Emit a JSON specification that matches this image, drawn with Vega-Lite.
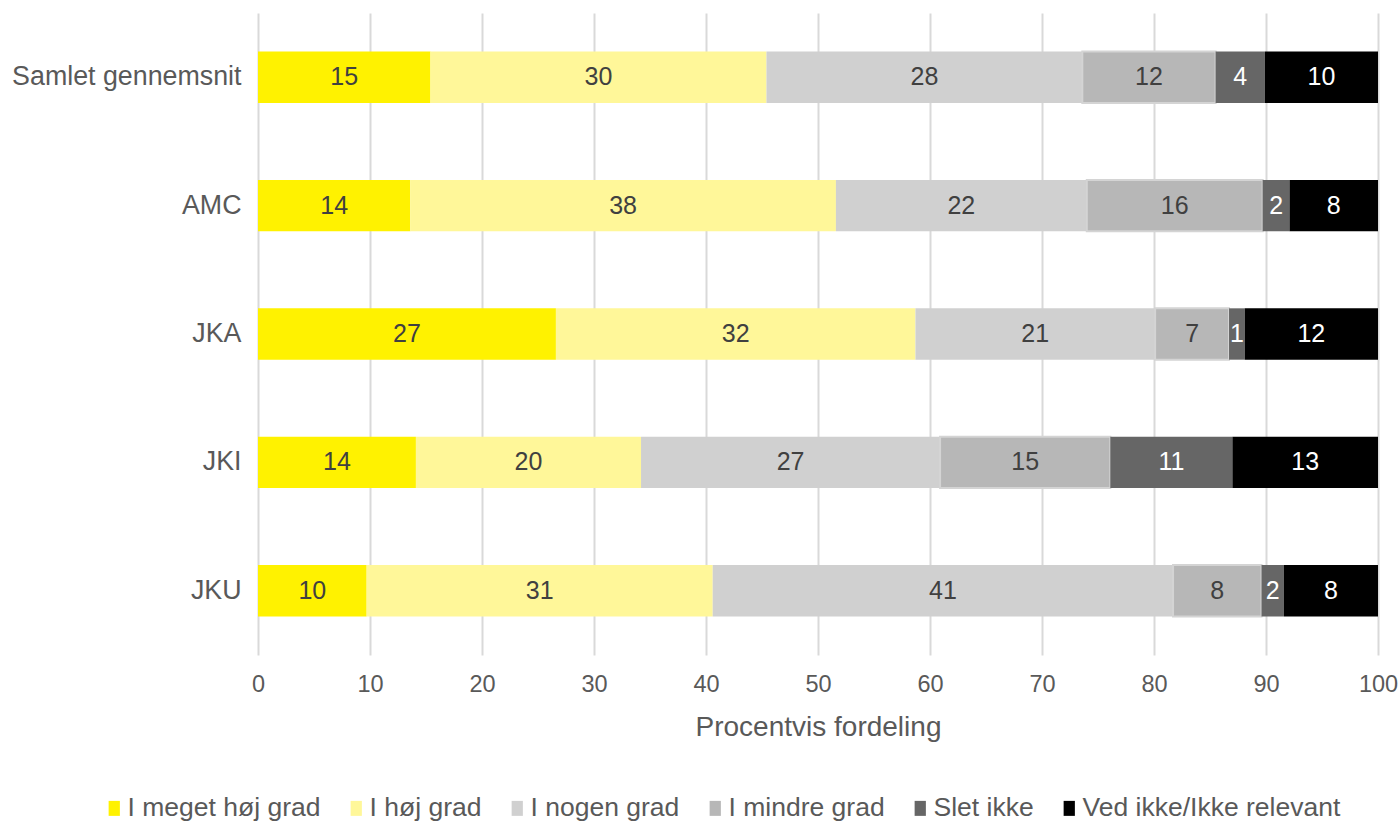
{
  "$schema": "https://vega.github.io/schema/vega-lite/v6.json",
  "autosize": {"type": "none"},
  "width": 1120,
  "height": 642,
  "padding": {"top": 13, "left": 258, "right": 22, "bottom": 170},
  "background": "#ffffff",
  "config": {
    "view": {"stroke": null},
    "font": "Liberation Sans",
    "text": {"font": "Liberation Sans"}
  },
  "data": {
    "values": [
      {"grp": "Samlet gennemsnit", "kat": "I meget høj grad", "v": 15.4},
      {"grp": "Samlet gennemsnit", "kat": "I høj grad", "v": 30.0},
      {"grp": "Samlet gennemsnit", "kat": "I nogen grad", "v": 28.2},
      {"grp": "Samlet gennemsnit", "kat": "I mindre grad", "v": 11.9},
      {"grp": "Samlet gennemsnit", "kat": "Slet ikke", "v": 4.4},
      {"grp": "Samlet gennemsnit", "kat": "Ved ikke/Ikke relevant", "v": 10.1},
      {"grp": "AMC", "kat": "I meget høj grad", "v": 13.6},
      {"grp": "AMC", "kat": "I høj grad", "v": 38.0},
      {"grp": "AMC", "kat": "I nogen grad", "v": 22.4},
      {"grp": "AMC", "kat": "I mindre grad", "v": 15.7},
      {"grp": "AMC", "kat": "Slet ikke", "v": 2.4},
      {"grp": "AMC", "kat": "Ved ikke/Ikke relevant", "v": 7.9},
      {"grp": "JKA", "kat": "I meget høj grad", "v": 26.6},
      {"grp": "JKA", "kat": "I høj grad", "v": 32.1},
      {"grp": "JKA", "kat": "I nogen grad", "v": 21.4},
      {"grp": "JKA", "kat": "I mindre grad", "v": 6.6},
      {"grp": "JKA", "kat": "Slet ikke", "v": 1.4},
      {"grp": "JKA", "kat": "Ved ikke/Ikke relevant", "v": 11.9},
      {"grp": "JKI", "kat": "I meget høj grad", "v": 14.1},
      {"grp": "JKI", "kat": "I høj grad", "v": 20.1},
      {"grp": "JKI", "kat": "I nogen grad", "v": 26.7},
      {"grp": "JKI", "kat": "I mindre grad", "v": 15.2},
      {"grp": "JKI", "kat": "Slet ikke", "v": 10.9},
      {"grp": "JKI", "kat": "Ved ikke/Ikke relevant", "v": 13.0},
      {"grp": "JKU", "kat": "I meget høj grad", "v": 9.7},
      {"grp": "JKU", "kat": "I høj grad", "v": 30.9},
      {"grp": "JKU", "kat": "I nogen grad", "v": 41.1},
      {"grp": "JKU", "kat": "I mindre grad", "v": 7.9},
      {"grp": "JKU", "kat": "Slet ikke", "v": 2.0},
      {"grp": "JKU", "kat": "Ved ikke/Ikke relevant", "v": 8.4}
    ]
  },
  "transform": [
    {"calculate": "indexof(['I meget høj grad','I høj grad','I nogen grad','I mindre grad','Slet ikke','Ved ikke/Ikke relevant'], datum.kat)", "as": "rang"},
    {"stack": "v", "groupby": ["grp"], "sort": [{"field": "rang", "order": "ascending"}], "as": ["x0", "x1"]},
    {"calculate": "(datum.x0 + datum.x1) / 2", "as": "midt"}
  ],
  "encoding": {
    "y": {
      "field": "grp",
      "type": "nominal",
      "sort": ["Samlet gennemsnit", "AMC", "JKA", "JKI", "JKU"],
      "scale": {"paddingInner": 0.6, "paddingOuter": 0.3},
      "axis": {
        "title": null,
        "domain": false,
        "ticks": false,
        "grid": false,
        "labelFontSize": 26.8,
        "labelColor": "#595959",
        "labelPadding": 17,
        "labelLimit": 0,
        "labelFont": "Liberation Sans"
      }
    }
  },
  "layer": [
    {
      "mark": {"type": "bar", "strokeWidth": 2},
      "encoding": {
        "x": {
          "field": "x0",
          "type": "quantitative",
          "scale": {"domain": [0, 100], "nice": false},
          "axis": {
            "values": [0, 10, 20, 30, 40, 50, 60, 70, 80, 90, 100],
            "title": "Procentvis fordeling",
            "titleFontSize": 28,
            "titleFontWeight": "normal",
            "titleColor": "#595959",
            "titleFont": "Liberation Sans",
            "titlePadding": 18,
            "labelFontSize": 23.5,
            "labelColor": "#595959",
            "labelFont": "Liberation Sans",
            "labelPadding": 17,
            "labelFlush": false,
            "labelOverlap": false,
            "domain": false,
            "ticks": false,
            "grid": true,
            "gridColor": "#d9d9d9",
            "gridWidth": 2
          }
        },
        "x2": {"field": "x1"},
        "color": {
          "field": "kat",
          "type": "nominal",
          "scale": {
            "domain": ["I meget høj grad", "I høj grad", "I nogen grad", "I mindre grad", "Slet ikke", "Ved ikke/Ikke relevant"],
            "range": ["#fff200", "#fff799", "#d0d0d0", "#b7b7b7", "#666666", "#000000"]
          },
          "legend": {
            "title": null,
            "orient": "none",
            "direction": "horizontal",
            "columns": 6,
            "legendX": -157,
            "legendY": 782,
            "labelFontSize": 26.5,
            "labelColor": "#595959",
            "labelFont": "Liberation Sans",
            "labelLimit": 0,
            "labelOffset": 0,
            "columnPadding": 22,
            "symbolType": "M-0.75,-1H0.75V1H-0.75Z",
            "symbolSize": 225,
            "symbolStrokeWidth": 0,
            "symbolOpacity": 1
          }
        },
        "stroke": {
          "condition": {"test": "datum.kat === 'I mindre grad'", "value": "#d4d4d4"},
          "value": null
        }
      }
    },
    {
      "mark": {"type": "text", "fontSize": 25, "font": "Liberation Sans", "baseline": "middle", "align": "center"},
      "encoding": {
        "x": {"field": "midt", "type": "quantitative"},
        "text": {"field": "v", "type": "quantitative", "format": ".0f"},
        "color": {
          "condition": {"test": "datum.kat === 'Slet ikke' || datum.kat === 'Ved ikke/Ikke relevant'", "value": "#ffffff"},
          "value": "#404040"
        }
      }
    }
  ]
}
